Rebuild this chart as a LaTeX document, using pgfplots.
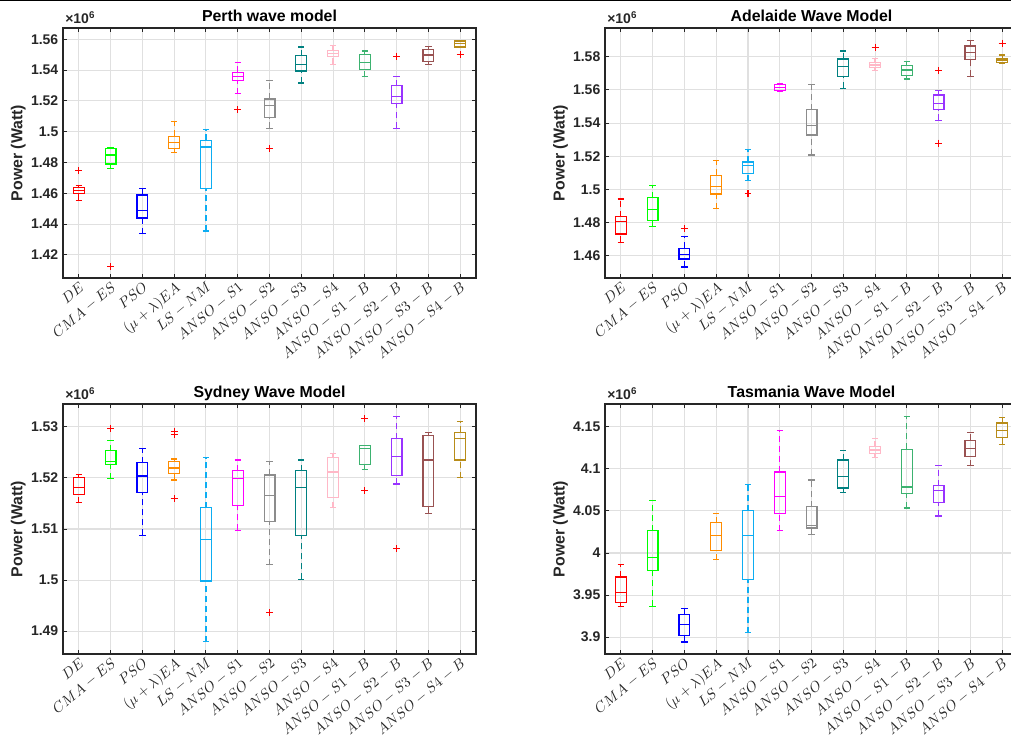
\documentclass[border=0pt]{standalone}
\usepackage{pgfplots}
\pgfplotsset{compat=1.18}
\usepackage{fontspec}
\setmainfont{Liberation Sans}

\definecolor{axgray}{rgb}{0.15,0.15,0.15}
\definecolor{gridgray}{rgb}{0.88,0.88,0.88}
\definecolor{cDE}{rgb}{1,0,0}
\definecolor{cCMA}{rgb}{0,1,0}
\definecolor{cPSO}{rgb}{0,0,1}
\definecolor{cEA}{rgb}{1,0.55,0}
\definecolor{cLS}{rgb}{0.05,0.68,0.95}
\definecolor{cSa}{rgb}{1,0,1}
\definecolor{cSb}{rgb}{0.55,0.55,0.55}
\definecolor{cSc}{rgb}{0,0.5,0.5}
\definecolor{cSd}{rgb}{1,0.72,0.78}
\definecolor{cSaB}{rgb}{0.24,0.70,0.44}
\definecolor{cSbB}{rgb}{0.6,0.2,1}
\definecolor{cScB}{rgb}{0.6,0.32,0.32}
\definecolor{cSdB}{rgb}{0.72,0.55,0.1}

\pgfplotsset{
  bxline/.style={line width=0.9pt, solid, mark=none},
  whisk/.style={line width=0.9pt, dash pattern=on 4.5pt off 3pt, mark=none},
  panel/.style={
    scale only axis, width=309.75pt, height=187.5pt,
    xmin=0.5, xmax=13.5,
    xtick={1,...,13},
    xticklabels={$DE$,$CMA-ES$,$PSO$,$(\mu+\lambda)EA$,$LS-NM$,$ANSO-S1$,$ANSO-S2$,$ANSO-S3$,$ANSO-S4$,$ANSO-S1-B$,$ANSO-S2-B$,$ANSO-S3-B$,$ANSO-S4-B$},
    xticklabel style={rotate=40, anchor=north east, font=\fontsize{11.3}{12}\selectfont, text=axgray, inner sep=1.5pt},
    yticklabel style={font=\bfseries\fontsize{10.5}{11}\selectfont, text=axgray},
    /pgf/number format/assume math mode=true,
    grid=major, grid style={gridgray, line width=0.8pt},
    axis line style={draw=axgray, line width=0.9pt},
    tick style={draw=axgray, line width=0.7pt},
    major tick length=3pt, tick align=inside,
    every axis title/.style={at={(0.5,1)}, anchor=base, yshift=4.5pt, font=\bfseries\fontsize{11.9}{12}\selectfont},
    ylabel={Power (Watt)},
    every axis y label/.style={at={(axis description cs:-0.108,0.5)}, rotate=90, anchor=center, font=\bfseries\fontsize{11.9}{12}\selectfont, text=axgray},
    clip=false,
  },
}

% #1 position, #2 colour, #3 lower whisker, #4 lower quartile, #5 median, #6 upper quartile, #7 upper whisker
\newcommand{\bx}[7]{%
  \pgfmathsetmacro\xl{#1-0.17}\pgfmathsetmacro\xr{#1+0.17}%
  \pgfmathsetmacro\cl{#1-0.1}\pgfmathsetmacro\cr{#1+0.1}%
  \addplot[draw=#2, whisk] coordinates {(#1,#6) (#1,#7)};
  \addplot[draw=#2, whisk] coordinates {(#1,#3) (#1,#4)};
  \addplot[draw=#2, bxline] coordinates {(\cl,#7) (\cr,#7)};
  \addplot[draw=#2, bxline] coordinates {(\cl,#3) (\cr,#3)};
  \addplot[draw=#2, bxline] coordinates {(\xl,#4) (\xr,#4) (\xr,#6) (\xl,#6) (\xl,#4) (\xr,#4)};
  \addplot[draw=#2, bxline] coordinates {(\xl,#5) (\xr,#5)};
}
% outlier: #1 position, #2 value
\newcommand{\ol}[2]{\addplot[only marks, mark=+, mark size=2.6pt, mark options={solid, red, line width=0.8pt}] coordinates {(#1,#2)};}
\newcommand{\expo}{\node[anchor=base west, inner sep=0pt, text=axgray, font=\bfseries\fontsize{10.5}{11}\selectfont] at ([xshift=1.5pt, yshift=3pt]axis description cs:0,1) {×10\textsuperscript{6}};}

\begin{document}
\begin{tikzpicture}
% ---------- Perth ----------
\begin{axis}[panel, at={(47.25pt,538.5pt)}, anchor=north west,
  title={Perth wave model}, ymin=1.405, ymax=1.5673, ytick={1.42,1.44,...,1.561}]
\bx{1}{cDE}{1.4554}{1.4600}{1.4619}{1.4637}{1.4650}
\bx{2}{cCMA}{1.4762}{1.4790}{1.4849}{1.4892}{1.4899}
\bx{3}{cPSO}{1.4338}{1.4440}{1.4487}{1.4589}{1.4632}
\bx{4}{cEA}{1.4866}{1.4890}{1.4929}{1.4970}{1.5065}
\bx{5}{cLS}{1.4355}{1.4632}{1.4901}{1.4944}{1.5013}
\bx{6}{cSa}{1.5247}{1.5334}{1.5358}{1.5386}{1.5448}
\bx{7}{cSb}{1.5022}{1.5091}{1.5171}{1.5212}{1.5334}
\bx{8}{cSc}{1.5316}{1.5394}{1.5438}{1.5492}{1.5550}
\bx{9}{cSd}{1.5438}{1.5490}{1.5509}{1.5526}{1.5559}
\bx{10}{cSaB}{1.5358}{1.5401}{1.5448}{1.5500}{1.5524}
\bx{11}{cSbB}{1.5022}{1.5184}{1.5228}{1.5299}{1.5360}
\bx{12}{cScB}{1.5438}{1.5453}{1.5498}{1.5531}{1.5552}
\bx{13}{cSdB}{1.5546}{1.5550}{1.5570}{1.5588}{1.5594}
\ol{1}{1.4745}\ol{2}{1.4123}\ol{6}{1.5141}\ol{7}{1.4892}\ol{11}{1.5490}\ol{13}{1.5498}
\expo
\end{axis}
% ---------- Adelaide ----------
\begin{axis}[panel, at={(453.75pt,538.5pt)}, anchor=north west,
  title={Adelaide Wave Model}, ymin=1.4466, ymax=1.5973, ytick={1.46,1.48,...,1.581}]
\bx{1}{cDE}{1.4682}{1.4731}{1.4805}{1.4835}{1.4942}
\bx{2}{cCMA}{1.4777}{1.4811}{1.4879}{1.4950}{1.5022}
\bx{3}{cPSO}{1.4532}{1.4580}{1.4610}{1.4644}{1.4715}
\bx{4}{cEA}{1.4883}{1.4972}{1.5016}{1.5086}{1.5175}
\bx{5}{cLS}{1.5052}{1.5094}{1.5145}{1.5165}{1.5239}
\bx{6}{cSa}{1.5593}{1.5597}{1.5615}{1.5631}{1.5639}
\bx{7}{cSb}{1.5207}{1.5328}{1.5384}{1.5480}{1.5633}
\bx{8}{cSc}{1.5609}{1.5681}{1.5740}{1.5786}{1.5834}
\bx{9}{cSd}{1.5716}{1.5734}{1.5750}{1.5766}{1.5788}
\bx{10}{cSaB}{1.5665}{1.5689}{1.5720}{1.5746}{1.5770}
\bx{11}{cSbB}{1.5416}{1.5480}{1.5517}{1.5569}{1.5595}
\bx{12}{cScB}{1.5681}{1.5784}{1.5826}{1.5864}{1.5898}
\bx{13}{cSdB}{1.5760}{1.5764}{1.5780}{1.5790}{1.5810}
\ol{3}{1.4763}\ol{5}{1.4974}\ol{9}{1.5858}\ol{11}{1.5714}\ol{11}{1.5279}\ol{13}{1.5882}
\expo
\end{axis}
% ---------- Sydney ----------
\begin{axis}[panel, at={(47.25pt,256.5pt)}, anchor=north west,
  title={Sydney Wave Model}, ymin=1.48552, ymax=1.53448, ytick={1.49,1.50,...,1.531}]
\bx{1}{cDE}{1.51513}{1.51669}{1.51805}{1.52013}{1.52065}
\bx{2}{cCMA}{1.51987}{1.52266}{1.52318}{1.52532}{1.52740}
\bx{3}{cPSO}{1.50876}{1.51721}{1.52039}{1.52299}{1.52578}
\bx{4}{cEA}{1.51961}{1.52084}{1.52195}{1.52325}{1.52370}
\bx{5}{cLS}{1.48792}{1.49980}{1.50792}{1.51416}{1.52396}
\bx{6}{cSa}{1.50974}{1.51461}{1.51987}{1.52143}{1.52351}
\bx{7}{cSb}{1.50298}{1.51149}{1.51649}{1.52058}{1.52325}
\bx{8}{cSc}{1.50013}{1.50870}{1.51805}{1.52143}{1.52351}
\bx{9}{cSd}{1.51416}{1.51623}{1.52117}{1.52396}{1.52480}
\bx{10}{cSaB}{1.52169}{1.52266}{1.52571}{1.52636}{1.52640}
\bx{11}{cSbB}{1.51883}{1.52052}{1.52422}{1.52766}{1.53208}
\bx{12}{cScB}{1.51305}{1.51441}{1.52351}{1.52838}{1.52896}
\bx{13}{cSdB}{1.52006}{1.52351}{1.52766}{1.52896}{1.53104}
\ol{2}{1.52974}\ol{4}{1.52909}\ol{4}{1.52844}\ol{4}{1.51597}\ol{7}{1.49357}\ol{10}{1.53156}\ol{10}{1.51753}\ol{11}{1.50610}
\expo
\end{axis}
% ---------- Tasmania ----------
\begin{axis}[panel, at={(453.75pt,256.5pt)}, anchor=north west,
  title={Tasmania Wave Model}, ymin=3.8799, ymax=4.1772, ytick={3.9,3.95,...,4.151}]
\bx{1}{cDE}{3.9367}{3.9414}{3.9529}{3.9714}{3.9860}
\bx{2}{cCMA}{3.9367}{3.9793}{3.9950}{4.0266}{4.0629}
\bx{3}{cPSO}{3.8941}{3.9020}{3.9150}{3.9272}{3.9339}
\bx{4}{cEA}{3.9919}{4.0029}{4.0207}{4.0360}{4.0471}
\bx{5}{cLS}{3.9051}{3.9682}{4.0207}{4.0502}{4.0818}
\bx{6}{cSa}{4.0266}{4.0471}{4.0676}{4.0964}{4.1453}
\bx{7}{cSb}{4.0219}{4.0297}{4.0329}{4.0550}{4.0869}
\bx{8}{cSc}{4.0723}{4.0774}{4.0912}{4.1106}{4.1216}
\bx{9}{cSd}{4.1137}{4.1185}{4.1224}{4.1263}{4.1358}
\bx{10}{cSaB}{4.0534}{4.0707}{4.0786}{4.1232}{4.1626}
\bx{11}{cSbB}{4.0439}{4.0597}{4.0743}{4.0802}{4.1039}
\bx{12}{cScB}{4.1039}{4.1149}{4.1244}{4.1338}{4.1437}
\bx{13}{cSdB}{4.1291}{4.1370}{4.1453}{4.1547}{4.1610}
\expo
\end{axis}
\draw[black, line width=1.5pt] (0pt,559.5pt) -- (758.25pt,559.5pt);
\pgfresetboundingbox
\path[use as bounding box] (0pt,0pt) rectangle (758.25pt,559.5pt);
\end{tikzpicture}
\end{document}
